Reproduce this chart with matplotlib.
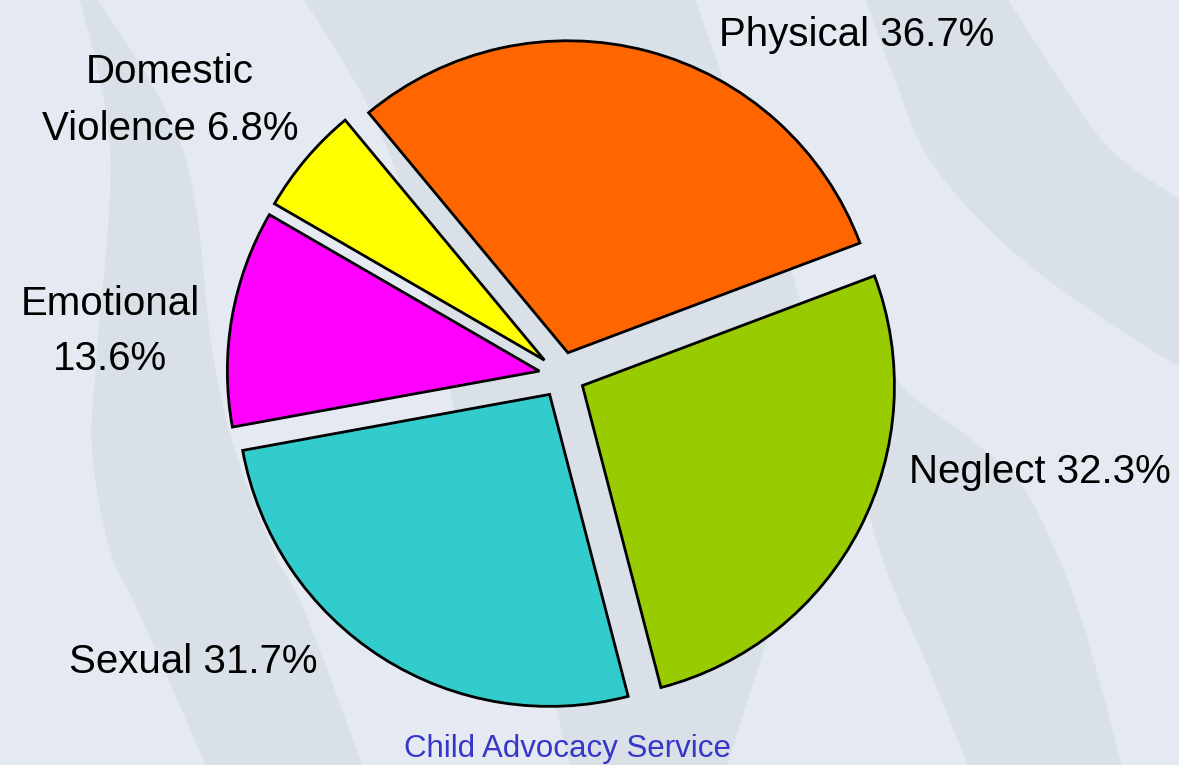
import matplotlib.pyplot as plt
import numpy as np
from matplotlib import font_manager

# data, in the order the slices go round (counter-clockwise)
categories = ['Physical', 'Domestic Violence', 'Emotional', 'Sexual', 'Neglect']
percents = [36.7, 6.8, 13.6, 31.7, 32.3]
colors = ['#ff6600', '#ffff00', '#ff00ff', '#33cccc', '#99cc00']
title = 'Child Advocacy Service'

W, H = 1179, 765
BG = '#e5eaf2'
BAND = '#d9e0e8'

# label lines (text, x, baseline y in pixels from top)
label_lines = [
    [('Physical {}%', 857, 46)],
    [('Domestic', 170, 83), ('Violence {}%', 170, 140)],
    [('Emotional', 110, 315), ('{}%', 110, 370)],
    [('Sexual {}%', 193, 673)],
    [('Neglect {}%', 1040, 483)],
]


def spline(xs, ys, n=30):
    # catmull-rom through the given points
    p = np.column_stack([xs, ys]).astype(float)
    p = np.vstack([p[0], p, p[-1]])
    t = np.linspace(0, 1, n, endpoint=False)[:, None]
    out = []
    for i in range(1, len(p) - 2):
        p0, p1, p2, p3 = p[i - 1], p[i], p[i + 1], p[i + 2]
        out.append(0.5 * (2 * p1 + (-p0 + p2) * t
                          + (2 * p0 - 5 * p1 + 4 * p2 - p3) * t ** 2
                          + (-p0 + 3 * p1 - 3 * p2 + p3) * t ** 3))
    out.append(p[-2][None])
    return np.vstack(out)


def band(ax, left, right):
    a = spline(left[1], left[0])
    b = spline(right[1], right[0])[::-1]
    pts = np.vstack([a, b])
    ax.fill(pts[:, 0], H - pts[:, 1], color=BAND, lw=0, zorder=0)


fig = plt.figure(figsize=(W / 100, H / 100), dpi=100)
fig.patch.set_facecolor(BG)
ax = fig.add_axes([0, 0, 1, 1])
ax.set_facecolor(BG)

# wavy background stripes: (y list, x list) for each edge
band(ax, ([-10, 150, 350, 450, 550, 615, 775], [78, 110, 97, 92, 110, 140, 210]),
         ([-10, 150, 350, 450, 550, 615, 775], [92, 183, 212, 235, 273, 306, 366]))
band(ax, ([-10, 100, 200, 350, 500, 650, 775], [298, 365, 405, 440, 480, 540, 572]),
         ([-10, 150, 300, 450, 600, 775], [692, 748, 800, 830, 780, 724]))
band(ax, ([-10, 80, 160, 240, 310, 380], [862, 895, 930, 1000, 1090, 1200]),
         ([-10, 80, 150, 200, 260], [1002, 1060, 1111, 1180, 1270]))
band(ax, ([300, 400, 500, 580, 660, 775], [835, 852, 866, 890, 925, 972]),
         ([300, 383, 433, 483, 550, 615, 690, 775], [860, 900, 963, 1020, 1055, 1080, 1102, 1124]))

wedges, _ = ax.pie(percents, colors=colors, explode=[23] * len(percents),
                   startangle=20.6, counterclock=True, radius=312,
                   center=(562, H - 375), frame=True,
                   wedgeprops=dict(edgecolor='black', linewidth=2.0, joinstyle='miter'))
for w in wedges:
    w.set_zorder(2)

ax.set_xlim(0, W)
ax.set_ylim(0, H)
ax.axis('off')

for pct, lines in zip(percents, label_lines):
    for txt, x, y in lines:
        ax.text(x, H - y, txt.format(pct), ha='center', va='baseline',
                fontsize=29, family='Liberation Sans', color='black', zorder=3)

names = {f.name for f in font_manager.fontManager.ttflist}
if 'Liberation Sans Narrow' in names:
    ax.text(568, H - 757, title, ha='center', va='baseline', fontsize=26.5,
            family='Liberation Sans Narrow', color='#3636c8', zorder=3)
else:
    ax.text(568, H - 757, title, ha='center', va='baseline', fontsize=22.5,
            family='Liberation Sans', color='#3636c8', zorder=3)

fig.savefig('out.png', dpi=100, facecolor=BG)
